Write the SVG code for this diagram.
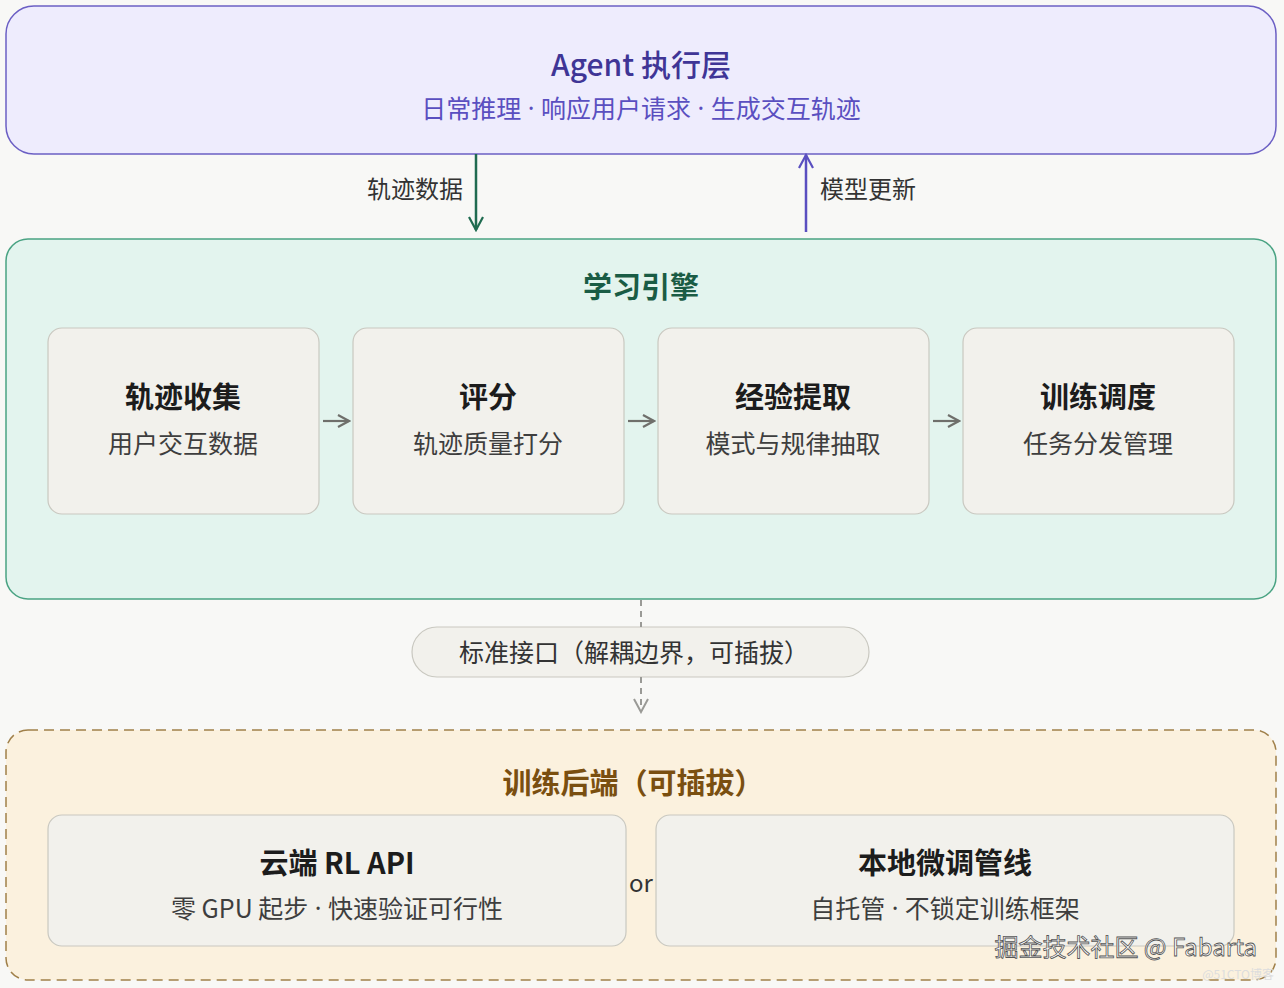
<svg xmlns="http://www.w3.org/2000/svg" width="1284" height="988" viewBox="0 0 1284 988">
<style>
text{font-family:"Noto Sans CJK SC","Noto Sans",sans-serif;text-anchor:middle;dominant-baseline:central}
.d{font-family:"Noto Sans",sans-serif}
.card{fill:#f2f1ec;stroke:#c9c8c0;stroke-width:1.2}
.ct{font-size:29px;font-weight:bold;fill:#1c1c1c}
.cs{font-size:25px;fill:#3e3e3e}
.flow{stroke:#6f6f6b;stroke-width:2.2;fill:none}
</style>
<defs>
<marker id="ag" viewBox="0 0 14 14" refX="12" refY="7" markerWidth="14" markerHeight="14" markerUnits="userSpaceOnUse" orient="auto"><path d="M1,1 L12,7 L1,13" fill="none" stroke="#6f6f6b" stroke-width="2.2"/></marker>
<marker id="agr" viewBox="0 0 16 16" refX="14" refY="8" markerWidth="16" markerHeight="16" markerUnits="userSpaceOnUse" orient="auto"><path d="M1,1 L14,8 L1,15" fill="none" stroke="#1f6b50" stroke-width="2.2"/></marker>
<marker id="apu" viewBox="0 0 16 16" refX="14" refY="8" markerWidth="16" markerHeight="16" markerUnits="userSpaceOnUse" orient="auto"><path d="M1,1 L14,8 L1,15" fill="none" stroke="#5a4fc0" stroke-width="2.2"/></marker>
<marker id="agl" viewBox="0 0 16 16" refX="14" refY="8" markerWidth="16" markerHeight="16" markerUnits="userSpaceOnUse" orient="auto"><path d="M1,1 L14,8 L1,15" fill="none" stroke="#9a9a96" stroke-width="2"/></marker>
</defs>
<rect width="1284" height="988" fill="#f8f8f6"/>
<g id="agent">
<rect x="6" y="6" width="1270" height="148" rx="28" fill="#eeecfd" stroke="#6b5fc4" stroke-width="1.5"/>
<text x="641" y="63" font-size="30" fill="#3f3596" font-weight="500">Agent 执行层</text>
<text x="641" y="107" font-size="25" fill="#5a4fc0">日常推理<tspan class="d"> · </tspan>响应用户请求<tspan class="d"> · </tspan>生成交互轨迹</text>
</g>
<g id="engine">
<rect x="6" y="239" width="1270" height="360" rx="22" fill="#e3f4ee" stroke="#4aa383" stroke-width="1.5"/>
<text x="641" y="285" font-size="29" font-weight="bold" fill="#1a5c45">学习引擎</text>
</g>
<g id="collect"><rect class="card" x="48" y="328" width="271" height="186" rx="14"/><text class="ct" x="183" y="395">轨迹收集</text><text class="cs" x="183" y="442">用户交互数据</text></g>
<g id="score"><rect class="card" x="353" y="328" width="271" height="186" rx="14"/><text class="ct" x="488" y="395">评分</text><text class="cs" x="488" y="442">轨迹质量打分</text></g>
<g id="extract"><rect class="card" x="658" y="328" width="271" height="186" rx="14"/><text class="ct" x="793" y="395">经验提取</text><text class="cs" x="793" y="442">模式与规律抽取</text></g>
<g id="schedule"><rect class="card" x="963" y="328" width="271" height="186" rx="14"/><text class="ct" x="1098" y="395">训练调度</text><text class="cs" x="1098" y="442">任务分发管理</text></g>
<g id="iface">
<rect x="412" y="627" width="457" height="50" rx="25" fill="#f2f1ec" stroke="#c9c8c0" stroke-width="1.2"/>
<text x="634" y="651" font-size="25" fill="#333">标准接口（解耦边界，可插拔）</text>
</g>
<g id="backend">
<rect x="6" y="730" width="1270" height="250" rx="22" fill="#fbf1de" stroke="#a0804a" stroke-width="1.5" stroke-dasharray="10 6"/>
<text x="633" y="781" font-size="29" font-weight="bold" fill="#7a4f10">训练后端（可插拔）</text>
</g>
<g id="cloud"><rect class="card" x="48" y="815" width="578" height="131" rx="14"/><text class="ct" x="337" y="861">云端 RL API</text><text class="cs" x="337" y="907">零 GPU 起步<tspan class="d"> · </tspan>快速验证可行性</text></g>
<g id="local"><rect class="card" x="656" y="815" width="578" height="131" rx="14"/><text class="ct" x="945" y="861">本地微调管线</text><text class="cs" x="945" y="907">自托管<tspan class="d"> · </tspan>不锁定训练框架</text></g>
<text x="641" y="881" font-size="24" fill="#333">or</text>
<g id="connectors">
<line x1="476" y1="154" x2="476" y2="230" stroke="#1f6b50" stroke-width="2.5" marker-end="url(#agr)"/>
<text x="463" y="187" font-size="24" fill="#333" style="text-anchor:end">轨迹数据</text>
<line x1="806" y1="232" x2="806" y2="155" stroke="#5a4fc0" stroke-width="2.5" marker-end="url(#apu)"/>
<text x="820" y="187" font-size="24" fill="#333" style="text-anchor:start">模型更新</text>
<line class="flow" x1="323" y1="421" x2="349" y2="421" marker-end="url(#ag)"/>
<line class="flow" x1="628" y1="421" x2="654" y2="421" marker-end="url(#ag)"/>
<line class="flow" x1="933" y1="421" x2="959" y2="421" marker-end="url(#ag)"/>
<line x1="641" y1="600" x2="641" y2="627" stroke="#9a9a96" stroke-width="2" stroke-dasharray="6 5"/>
<line x1="641" y1="677" x2="641" y2="712" stroke="#9a9a96" stroke-width="2" stroke-dasharray="6 5" marker-end="url(#agl)"/>
</g>
<text x="1257" y="945" font-size="24" fill="#fff" stroke="#555" stroke-width="0.8" style="text-anchor:end">掘金技术社区 @ Fabarta</text>
<text x="1274" y="973" font-size="12" fill="#ddd" style="text-anchor:end">@51CTO博客</text>
</svg>
